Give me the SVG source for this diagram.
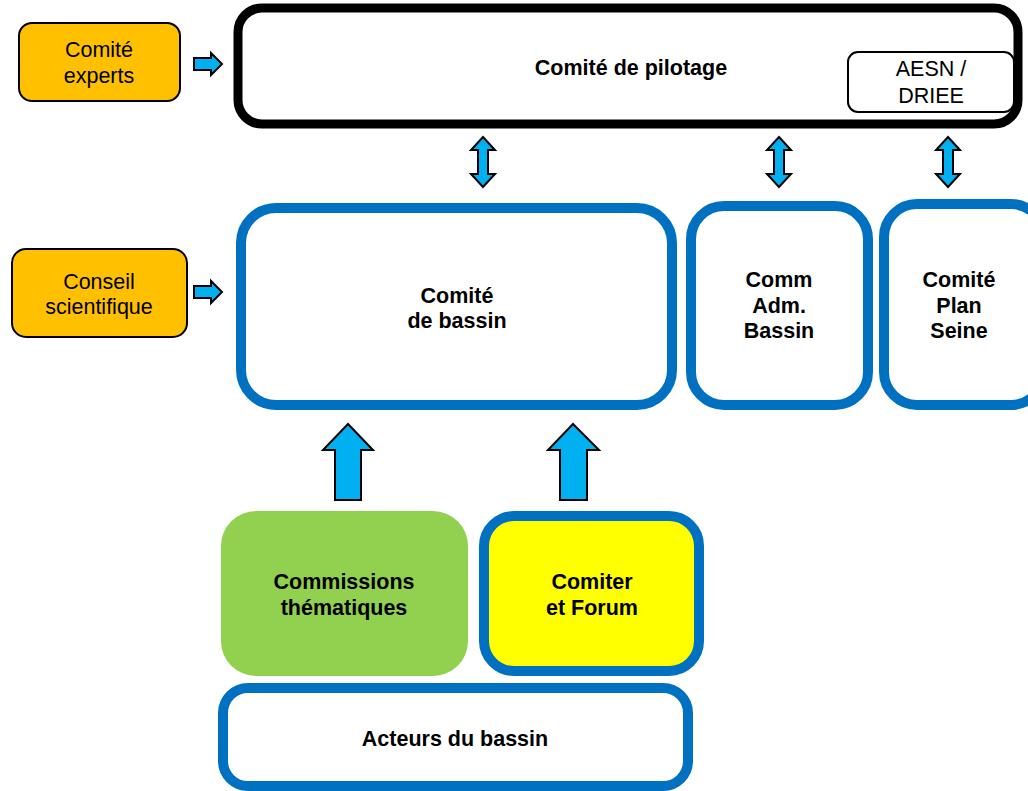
<svg xmlns="http://www.w3.org/2000/svg" width="1028" height="791" viewBox="0 0 1028 791">
<style>
text{font-family:"Liberation Sans",Arial,sans-serif;font-size:21.5px;text-anchor:middle;fill:#000}
.b{font-weight:bold}
.orange{fill:#FFC000;stroke:#000;stroke-width:2}
.blue{fill:#fff;stroke:#0070C0;stroke-width:10}
.arr{fill:#00B0F0;stroke:#000;stroke-width:2;stroke-linejoin:miter}
</style>
<rect width="1028" height="791" fill="#fff"/>
<g id="comite-experts">
<rect class="orange" x="19" y="23" width="161" height="78" rx="13"/>
<text x="99" y="57">Comité</text>
<text x="99" y="83">experts</text>
</g>
<g id="comite-pilotage">
<rect x="238" y="8" width="780" height="116" rx="24" fill="#fff" stroke="#000" stroke-width="9"/>
<text class="b" x="631" y="75">Comité de pilotage</text>
</g>
<g id="aesn-driee">
<rect x="848" y="52" width="166" height="60" rx="10" fill="#fff" stroke="#000" stroke-width="2"/>
<text x="931" y="76">AESN /</text>
<text x="931" y="103">DRIEE</text>
</g>
<g id="conseil-scientifique">
<rect class="orange" x="12" y="249" width="175" height="88" rx="14"/>
<text x="99" y="289">Conseil</text>
<text x="99" y="314">scientifique</text>
</g>
<g id="comite-bassin">
<rect class="blue" x="241" y="208" width="431" height="197" rx="35"/>
<text class="b" x="457" y="303">Comité</text>
<text class="b" x="457" y="328">de bassin</text>
</g>
<g id="comm-adm-bassin">
<rect class="blue" x="691" y="206" width="177" height="199" rx="33"/>
<text class="b" x="779" y="287">Comm</text>
<text class="b" x="779" y="313">Adm.</text>
<text class="b" x="779" y="338">Bassin</text>
</g>
<g id="comite-plan-seine">
<rect class="blue" x="884" y="204" width="160" height="201" rx="33"/>
<text class="b" x="959" y="287">Comité</text>
<text class="b" x="959" y="313">Plan</text>
<text class="b" x="959" y="338">Seine</text>
</g>
<g id="commissions-thematiques">
<rect x="221" y="511" width="247" height="165" rx="35" fill="#92D050"/>
<text class="b" x="344" y="589">Commissions</text>
<text class="b" x="344" y="615">thématiques</text>
</g>
<g id="comiter-forum">
<rect x="484" y="516" width="215" height="155" rx="30" fill="#FFFF00" stroke="#0070C0" stroke-width="10"/>
<text class="b" x="592" y="589">Comiter</text>
<text class="b" x="592" y="615">et Forum</text>
</g>
<g id="acteurs-bassin">
<rect class="blue" x="223" y="688" width="465" height="98" rx="25"/>
<text class="b" x="455" y="746">Acteurs du bassin</text>
</g>
<g id="connectors">
<path class="arr" d="M194,58 L211,58 L211,53 L222,64 L211,75 L211,70 L194,70 Z"/>
<path class="arr" d="M194,286 L211,286 L211,281 L222,292 L211,303 L211,298 L194,298 Z"/>
<path class="arr" d="M483,137 L495,150 L488,150 L488,174 L495,174 L483,187 L471,174 L478,174 L478,150 L471,150 Z"/>
<path class="arr" d="M779,137 L791,150 L784,150 L784,174 L791,174 L779,187 L767,174 L774,174 L774,150 L767,150 Z"/>
<path class="arr" d="M948,137 L960,150 L953,150 L953,174 L960,174 L948,187 L936,174 L943,174 L943,150 L936,150 Z"/>
<path class="arr" d="M348,424 L373,450 L361,450 L361,500 L335,500 L335,450 L323,450 Z"/>
<path class="arr" d="M573,424 L599,450 L587,450 L587,500 L560,500 L560,450 L548,450 Z"/>
</g>
</svg>
